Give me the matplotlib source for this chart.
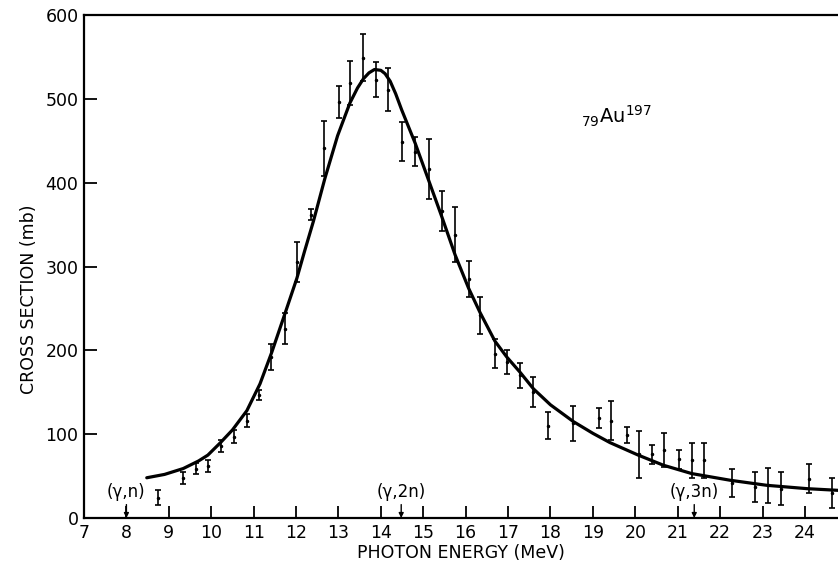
import numpy as np
import matplotlib.pyplot as plt

# measured photoneutron cross section points (MeV, mb, +/- mb)
energy = [8.75, 9.33, 9.64, 9.92, 10.23, 10.54, 10.84, 11.13, 11.41, 11.74,
          12.02, 12.35, 12.66, 13.01, 13.27, 13.58, 13.89, 14.17, 14.50, 14.81,
          15.14, 15.44, 15.75, 16.08, 16.34, 16.69, 16.98, 17.28, 17.59, 17.94,
          18.53, 19.15, 19.43, 19.81, 20.09, 20.40, 20.68, 21.03, 21.34, 21.62,
          22.28, 22.83, 23.13, 23.44, 24.10, 24.64]
sigma = [24, 48, 59, 62, 86, 97, 116, 147, 192, 226,
         305, 362, 441, 496, 519, 549, 523, 511, 449, 437,
         416, 366, 338, 285, 242, 196, 186, 170, 150, 110,
         113, 119, 116, 99, 76, 76, 81, 70, 69, 69,
         42, 37, 39, 35, 47, 30]
err = [9, 7, 7, 7, 7, 8, 8, 6, 16, 18,
       24, 7, 33, 19, 26, 28, 21, 26, 23, 17,
       36, 24, 33, 21, 22, 17, 14, 15, 18, 16,
       21, 12, 23, 10, 28, 11, 20, 11, 21, 21,
       17, 18, 21, 20, 17, 18]

# fitted curve
fit_e = [8.48, 8.90, 9.34, 9.70, 9.92, 10.22, 10.50, 10.84, 11.15, 11.43,
         11.74, 12.02, 12.20, 12.41, 12.68, 12.98, 13.27, 13.45, 13.59, 13.72,
         13.85, 14.00, 14.10, 14.22, 14.35, 14.49, 14.65, 14.81, 15.14, 15.44,
         15.75, 16.07, 16.34, 16.69, 16.97, 17.28, 17.60, 18.00, 18.54, 19.00,
         19.40, 20.07, 20.66, 21.33, 22.24, 23.10, 24.05, 24.78]
fit_s = [48, 52, 59, 68, 75, 90, 105, 128, 160, 198,
         244, 286, 318, 354, 405, 456, 495, 513, 524, 531,
         535, 534, 530, 521, 506, 487, 467, 447, 401, 359,
         314, 274, 245, 211, 192, 174, 154, 135, 115, 101,
         90, 75, 63, 53, 45, 39, 35, 33]

thresholds = [8.0, 14.48, 21.39]
threshold_labels = ['(γ,n)', '(γ,2n)', '(γ,3n)']

fig = plt.figure(figsize=(8.38, 5.67), dpi=100)
ax = fig.add_axes([84 / 838, 49 / 567, 754 / 838, 503 / 567])

ax.plot(fit_e, fit_s, color='black', lw=2.3, solid_joinstyle='round',
        solid_capstyle='round')
ax.errorbar(energy, sigma, yerr=err, fmt='o', ms=1.5, color='black',
            ecolor='black', elinewidth=1.2, capsize=2.3, capthick=1.2)

for x, lab in zip(thresholds, threshold_labels):
    ax.annotate('', xy=(x, 0), xytext=(x, 16),
                arrowprops=dict(arrowstyle='-|>', color='black', lw=1.0,
                                mutation_scale=7, shrinkA=0, shrinkB=0))
    ax.text(x, 31, lab, ha='center', va='center', fontsize=12)

ax.text(18.72, 470, r'$_{79}\mathrm{Au}^{197}$', fontsize=14, ha='left',
        va='baseline')

ax.set_xlim(7, 24.78)
ax.set_ylim(0, 600)
ax.set_xticks(range(7, 25))
ax.set_yticks(range(0, 601, 100))
ax.tick_params(direction='in', length=9, width=1.3, labelsize=12.5,
               top=False, right=False, pad=4)
ax.spines['right'].set_visible(False)
for s in ['left', 'bottom', 'top']:
    ax.spines[s].set_linewidth(1.6)

ax.set_xlabel('PHOTON ENERGY (MeV)', fontsize=12.5, labelpad=2)
ax.set_ylabel('CROSS SECTION (mb)', fontsize=12.5)
ax.yaxis.set_label_coords(-0.061, 0.435)

fig.savefig('out.png', dpi=100)
